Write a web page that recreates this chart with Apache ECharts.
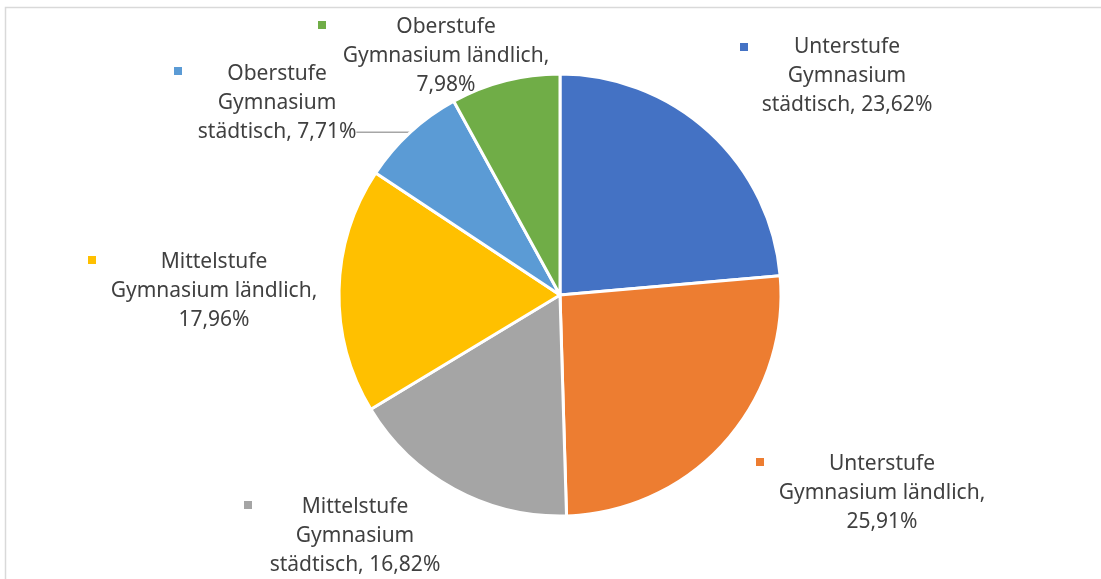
<!DOCTYPE html>
<html>
<head>
<meta charset="utf-8">
<script src="https://cdn.jsdelivr.net/npm/echarts@6/dist/echarts.min.js"></script>
<style>
  html, body { margin: 0; padding: 0; background: #fff; }
  #pie { width: 1101px; height: 579px; }
</style>
</head>
<body>
<div id="pie"></div>
<script>
// 数据
var categories = [
    'Unterstufe Gymnasium städtisch',
    'Unterstufe Gymnasium ländlich',
    'Mittelstufe Gymnasium städtisch',
    'Mittelstufe Gymnasium ländlich',
    'Oberstufe Gymnasium städtisch',
    'Oberstufe Gymnasium ländlich'
];
var values = [23.62, 25.91, 16.82, 17.96, 7.71, 7.98];
var colors = ['#4472c4', '#ed7d31', '#a5a5a5', '#ffc000', '#5b9bd5', '#70ad47'];

// 标签位置（文字块中心）和图例小方块位置；null = 用饼图自带的引导线布局
var labelPos = [[847, 76], [882, 493], [355, 536], [214, 291], null, [446, 56]];
var markerPos = [[744, 47], [760, 462], [248, 505], [92, 260], [178, 71], [322, 25]];

var myChart = echarts.init(document.getElementById('pie'));

function pct(v) {
    return v.toFixed(2).replace('.', ',') + '%';
}

function labelText(name, v) {
    var parts = name.split(' ');
    var lines;
    if (parts[2] === 'ländlich') {
        lines = [parts[0], parts[1] + ' ' + parts[2] + ',', pct(v)];
    } else {
        lines = [parts[0], parts[1], parts[2] + ', ' + pct(v)];
    }
    return lines.map(function (l) { return '{c|' + l + '}'; }).join('\n');
}

var pieData = categories.map(function (name, i) {
    var item = {
        name: name,
        value: values[i],
        itemStyle: { color: colors[i] },
        labelLine: { show: false }
    };
    if (!labelPos[i]) {
        // 这一块的标签带引导线
        item.labelLine = { show: true, length: 0, length2: 54 };
        item.label = { padding: [0, 0, 58, 0], distanceToLabelLine: 0 };
    }
    return item;
});

var markerData = categories.map(function (name, i) {
    return {
        name: name,
        value: values[i],
        label: { rich: { m: { backgroundColor: colors[i] } } }
    };
});

var option = {
    backgroundColor: '#fff',
    animation: false,
    graphic: [{
        type: 'rect',
        shape: { x: 5.5, y: 7.5, width: 1200, height: 700 },
        style: { fill: 'none', stroke: '#d9d9d9', lineWidth: 1.5 },
        silent: true
    }],
    series: [
        {
            type: 'pie',
            center: [560, 295],
            radius: ['0%', 221],
            startAngle: 90,
            clockwise: true,
            avoidLabelOverlap: false,
            data: pieData,
            itemStyle: { borderColor: '#fff', borderWidth: 3 },
            label: {
                show: true,
                position: 'outside',
                formatter: function (p) { return labelText(p.name, p.value); },
                fontFamily: 'Noto Sans',
                fontSize: 21,
                lineHeight: 29,
                color: '#404040',
                rich: {
                    c: {
                        align: 'center',
                        fontFamily: 'Noto Sans',
                        fontSize: 21,
                        lineHeight: 29,
                        color: '#404040'
                    }
                }
            },
            labelLine: {
                lineStyle: { color: '#a6a6a6', width: 1.5 }
            },
            labelLayout: function (p) {
                var pos = labelPos[p.dataIndex];
                if (!pos) {
                    return {};
                }
                return { x: pos[0], y: pos[1], align: 'center', verticalAlign: 'middle' };
            },
            emphasis: { disabled: true }
        },
        {
            type: 'pie',
            center: [560, 295],
            radius: ['0%', 221],
            startAngle: 90,
            clockwise: true,
            silent: true,
            avoidLabelOverlap: false,
            data: markerData,
            itemStyle: { color: 'rgba(0,0,0,0)', borderWidth: 0 },
            label: {
                show: true,
                position: 'outside',
                formatter: '{m|}',
                rich: { m: { width: 8, height: 8 } }
            },
            labelLine: { show: false },
            labelLayout: function (p) {
                var pos = markerPos[p.dataIndex];
                return { x: pos[0], y: pos[1], align: 'center', verticalAlign: 'middle' };
            },
            emphasis: { disabled: true }
        }
    ]
};

myChart.setOption(option);

window.addEventListener('resize', function () {
    myChart.resize();
});
</script>
</body>
</html>
